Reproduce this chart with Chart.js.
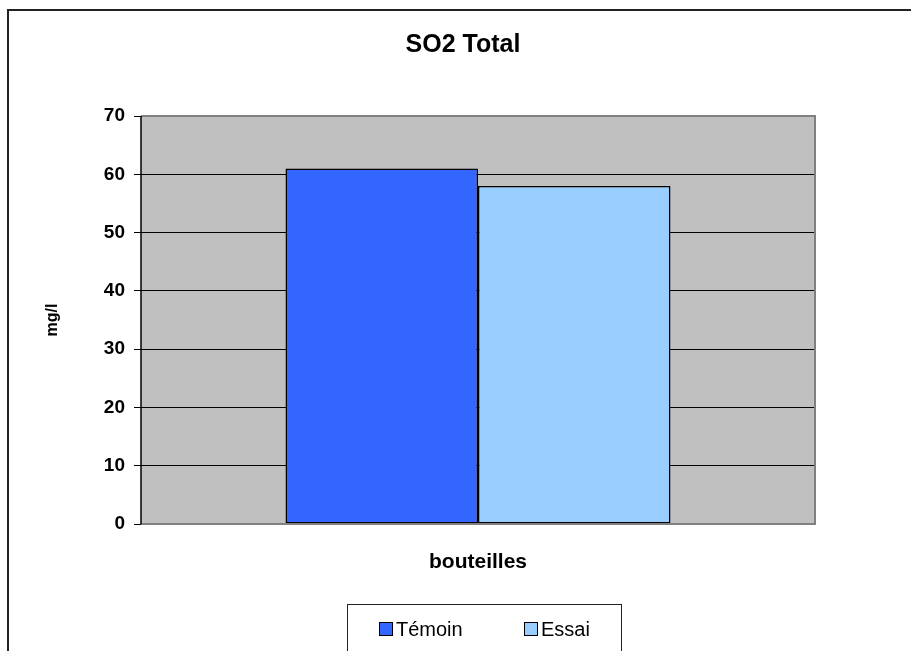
<!DOCTYPE html>
<html lang="fr">
<head>
    <meta charset="UTF-8">
    <title>SO2 Total</title>
    <script src="https://cdn.jsdelivr.net/npm/chart.js"></script>
    <style>
        body { margin: 0; background: #fff; }
        #wrap { width: 911px; height: 651px; }
    </style>
</head>
<body>
    <div id="wrap"><canvas id="so2Chart"></canvas></div>

    <script>
        // Data
        const categories = [''];
        const seriesNames = ['Témoin', 'Essai'];
        const temoinValues = [61];
        const essaiValues = [58];
        const yTicks = [0, 10, 20, 30, 40, 50, 60, 70];
        const chartTitle = 'SO2 Total';

        const colors = ['#3366FF', '#99CCFF'];
        const FONT = 'Arial, "Liberation Sans"';

        // gray plot area, outer frame, title and boxed legend
        const frame = {
            id: 'frame',
            beforeDraw(chart) {
                const ctx = chart.ctx, a = chart.chartArea;
                ctx.save();
                ctx.fillStyle = '#fff';
                ctx.fillRect(0, 0, chart.width, chart.height);
                ctx.fillStyle = '#C0C0C0';
                ctx.fillRect(a.left, a.top, a.right - a.left, a.bottom - a.top);
                ctx.strokeStyle = '#222';
                ctx.lineWidth = 2;
                ctx.strokeRect(8, 10, 960, 760);

                ctx.fillStyle = '#000';
                ctx.font = 'bold 25px ' + FONT;
                ctx.textAlign = 'center';
                ctx.textBaseline = 'middle';
                ctx.fillText(chartTitle, 463, 45);
                ctx.restore();
            },
            afterDraw(chart) {
                const ctx = chart.ctx, a = chart.chartArea;
                ctx.save();
                ctx.strokeStyle = '#808080';
                ctx.lineWidth = 2;
                ctx.beginPath();
                ctx.moveTo(a.left, a.top);
                ctx.lineTo(a.right, a.top);
                ctx.lineTo(a.right, a.bottom);
                ctx.lineTo(a.left, a.bottom);
                ctx.stroke();
                ctx.strokeStyle = '#000';
                ctx.lineWidth = 1.5;
                ctx.beginPath();
                ctx.moveTo(a.left, a.top);
                ctx.lineTo(a.left, a.bottom);
                ctx.stroke();

                // legend box
                ctx.strokeStyle = '#222';
                ctx.lineWidth = 1;
                ctx.strokeRect(347.5, 604.5, 274, 80);
                ctx.font = '20px ' + FONT;
                ctx.textBaseline = 'middle';
                const xs = [379, 524];
                chart.data.datasets.forEach((ds, i) => {
                    ctx.fillStyle = ds.backgroundColor;
                    ctx.fillRect(xs[i], 622, 14, 14);
                    ctx.strokeStyle = '#000';
                    ctx.strokeRect(xs[i] + 0.5, 622.5, 13, 13);
                    ctx.fillStyle = '#000';
                    ctx.fillText(ds.label, xs[i] + 17, 630);
                });
                ctx.restore();
            }
        };

        const ctx = document.getElementById('so2Chart').getContext('2d');
        new Chart(ctx, {
            type: 'bar',
            data: {
                labels: categories,
                datasets: [
                    { label: seriesNames[0], data: temoinValues, backgroundColor: colors[0] },
                    { label: seriesNames[1], data: essaiValues, backgroundColor: colors[1] }
                ]
            },
            options: {
                responsive: true,
                maintainAspectRatio: false,
                animation: false,
                layout: { padding: { left: 0, right: 96, top: 116, bottom: 67 } },
                datasets: {
                    bar: {
                        borderColor: '#000',
                        borderWidth: 1.5,
                        borderSkipped: false,
                        barPercentage: 1,
                        categoryPercentage: 0.5712
                    }
                },
                plugins: {
                    legend: { display: false },
                    tooltip: { enabled: false },
                    title: { display: false }
                },
                scales: {
                    x: {
                        grid: { display: false },
                        border: { display: false },
                        ticks: { display: false },
                        title: {
                            display: true,
                            text: 'bouteilles',
                            color: '#000',
                            font: { family: FONT, size: 21, weight: 'bold' },
                            padding: { top: 0, bottom: 9 }
                        },
                        afterFit(s) { s.height = 60; }
                    },
                    y: {
                        min: 0,
                        max: 70,
                        afterBuildTicks(s) { s.ticks = yTicks.map(v => ({ value: v })); },
                        grid: { color: '#000', lineWidth: 1, tickLength: 7 },
                        border: { display: false },
                        ticks: {
                            color: '#000',
                            padding: 9,
                            font: { family: FONT, size: 19, weight: 'bold' }
                        },
                        title: {
                            display: true,
                            text: 'mg/l',
                            color: '#000',
                            font: { family: FONT, size: 16, weight: 'bold' },
                            padding: { top: 43, bottom: 0 }
                        },
                        afterFit(s) { s.width = 141; }
                    }
                }
            },
            plugins: [frame]
        });
    </script>
</body>
</html>
